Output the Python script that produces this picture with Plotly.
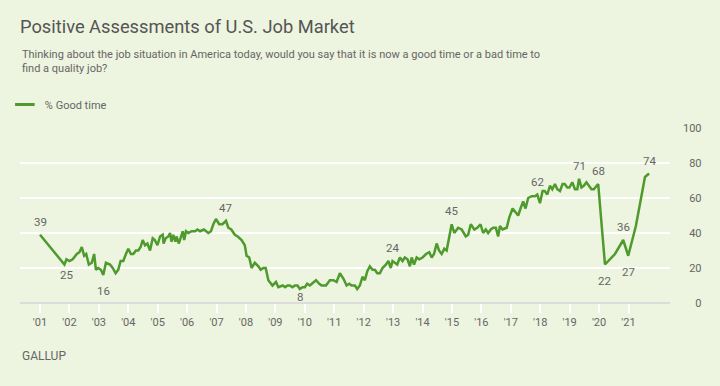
import plotly.graph_objects as go

# ---- data ----
years = [
    2001.00, 2001.83, 2001.90, 2002.00, 2002.11, 2002.25, 2002.34, 2002.42, 2002.50, 2002.57,
    2002.66, 2002.76, 2002.84, 2002.90, 2002.98, 2003.07, 2003.15, 2003.24, 2003.38, 2003.47,
    2003.57, 2003.66, 2003.74, 2003.83, 2003.92, 2004.00, 2004.09, 2004.17, 2004.26, 2004.34,
    2004.42, 2004.49, 2004.57, 2004.65, 2004.74, 2004.83, 2004.90, 2004.99, 2005.08, 2005.17,
    2005.20, 2005.27, 2005.36, 2005.42, 2005.47, 2005.53, 2005.60, 2005.64, 2005.72, 2005.78,
    2005.85, 2005.90, 2005.96, 2006.04, 2006.15, 2006.27, 2006.35, 2006.44, 2006.57, 2006.72,
    2006.81, 2006.89, 2006.98, 2007.09, 2007.20, 2007.32, 2007.40, 2007.50, 2007.62, 2007.72,
    2007.85, 2007.96, 2008.02, 2008.11, 2008.19, 2008.30, 2008.42, 2008.50, 2008.59, 2008.67,
    2008.76, 2008.90, 2009.02, 2009.10, 2009.25, 2009.33, 2009.41, 2009.49, 2009.58, 2009.66,
    2009.75, 2009.83, 2009.92, 2010.00, 2010.08, 2010.17, 2010.29, 2010.38, 2010.49, 2010.57,
    2010.72, 2010.85, 2010.97, 2011.08, 2011.19, 2011.31, 2011.42, 2011.51, 2011.59, 2011.70,
    2011.78, 2011.87, 2011.96, 2012.04, 2012.12, 2012.21, 2012.30, 2012.38, 2012.46, 2012.55,
    2012.64, 2012.76, 2012.84, 2012.92, 2012.98, 2013.06, 2013.14, 2013.23, 2013.32, 2013.40,
    2013.49, 2013.57, 2013.63, 2013.71, 2013.80, 2013.89, 2014.00, 2014.12, 2014.23, 2014.31,
    2014.39, 2014.48, 2014.56, 2014.65, 2014.74, 2014.82, 2014.99, 2015.08, 2015.21, 2015.33,
    2015.47, 2015.55, 2015.64, 2015.76, 2015.86, 2015.97, 2016.06, 2016.15, 2016.23, 2016.32,
    2016.40, 2016.49, 2016.57, 2016.63, 2016.72, 2016.86, 2016.95, 2017.06, 2017.14, 2017.25,
    2017.33, 2017.42, 2017.50, 2017.59, 2017.71, 2017.82, 2017.90, 2017.99, 2018.08, 2018.15,
    2018.24, 2018.33, 2018.41, 2018.50, 2018.58, 2018.67, 2018.76, 2018.83, 2018.92, 2018.99,
    2019.09, 2019.18, 2019.26, 2019.32, 2019.40, 2019.48, 2019.57, 2019.66, 2019.74, 2019.82,
    2019.97, 2020.20, 2020.54, 2020.82, 2020.99, 2021.25, 2021.56, 2021.70,
]
good_time = [
    39, 22, 25, 24, 25, 28, 29, 32, 27, 28,
    22, 23, 28, 19, 20, 19, 16, 23, 22, 20,
    17, 19, 24, 24, 28, 31, 28, 28, 30, 30,
    32, 36, 33, 34, 30, 37, 36, 33, 38, 39,
    34, 37, 38, 40, 35, 39, 35, 38, 34, 38,
    41, 36, 41, 40, 41, 41, 42, 41, 42, 40,
    41, 45, 48, 45, 45, 47, 43, 42, 39, 38,
    36, 33, 27, 26, 20, 23, 21, 19, 20, 20,
    13, 10, 12, 9, 10, 9, 10, 10, 9, 10,
    10, 8, 9, 9, 11, 10, 12, 13, 11, 10,
    10, 13, 13, 12, 17, 14, 10, 11, 10, 10,
    8, 10, 15, 13, 18, 21, 19, 19, 17, 17,
    20, 22, 24, 20, 24, 23, 22, 26, 24, 26,
    25, 21, 26, 22, 26, 25, 26, 28, 29, 26,
    28, 34, 30, 28, 31, 30, 45, 40, 43, 42,
    38, 39, 45, 42, 43, 45, 40, 42, 40, 42,
    43, 43, 38, 44, 42, 43, 49, 54, 52, 50,
    54, 58, 54, 60, 61, 61, 62, 57, 64, 64,
    62, 67, 65, 68, 65, 64, 68, 68, 66, 66,
    69, 65, 65, 71, 66, 67, 69, 67, 65, 65,
    68, 22, 28, 36, 27, 44, 72, 74,
]

# labelled points (year of the point) and whether label sits above or below
label_years = [2001.00, 2001.90, 2003.15, 2007.32, 2009.83, 2012.98, 2014.99,
               2017.90, 2019.32, 2019.97, 2020.20, 2020.82, 2020.99, 2021.70]
label_side = ["above", "below", "below", "above", "below", "above", "above",
              "above", "above", "above", "below", "above", "below", "above"]

tick_years = list(range(2001, 2022))
tick_labels = ["'%02d" % (y % 100) for y in tick_years]
y_ticks = [0, 20, 40, 60, 80, 100]

series_name = "% Good time"

# ---- styling ----
BG = "#edf4df"
GREEN = "#4e9a2c"
TEXT = "#666666"
FONT = "Roboto"

fig = go.Figure()
fig.add_trace(go.Scatter(
    x=years, y=good_time, mode="lines", name=series_name,
    line=dict(color=GREEN, width=2.5), showlegend=False, hoverinfo="skip",
))
# legend entry with short line symbol
fig.add_trace(go.Scatter(
    x=[None], y=[None], mode="markers", name=series_name,
    marker=dict(symbol="line-ew", size=14, line=dict(color=GREEN, width=3)),
    showlegend=True,
))

annotations = []
for ly, side in zip(label_years, label_side):
    idx = years.index(ly)
    v = good_time[idx]
    shift = 13 if side == "above" else -16
    if ly == 2009.83:
        shift = -8
    annotations.append(dict(
        x=ly, y=v, text=str(v), showarrow=False, xref="x", yref="y",
        yshift=shift, font=dict(family=FONT, size=11.5, color=TEXT),
    ))

annotations.append(dict(
    text="Thinking about the job situation in America today, would you say that it is now a good time or a bad time to<br>find a quality job?",
    xref="paper", yref="paper", x=0, y=(303.3 - 46) / 175, xanchor="left", yanchor="top",
    align="left", showarrow=False, font=dict(family=FONT, size=11, color=TEXT),
))
annotations.append(dict(
    text="GALLUP", xref="paper", yref="paper", x=0, y=(303.3 - 356) / 175,
    xanchor="left", yanchor="middle", showarrow=False,
    font=dict(family=FONT, size=12, color=TEXT),
))

yt_text = []
for t in y_ticks:
    s = str(t)
    yt_text.append("\u2007" * (3 - len(s)) + s)

fig.update_layout(
    width=720, height=386,
    paper_bgcolor=BG, plot_bgcolor=BG,
    margin=dict(l=20, r=50, t=128, b=83, autoexpand=False),
    title=dict(text="Positive Assessments of U.S. Job Market", x=20 / 720, xanchor="left",
               xref="container", yref="container", y=1 - 27 / 386, yanchor="middle",
               pad=dict(l=0, r=0, t=0, b=0),
               font=dict(family=FONT, size=18.3, color="#555555")),
    legend=dict(orientation="h", x=-0.0233, y=(303.3 - 104.7) / 175, xanchor="left", yanchor="middle",
                bgcolor="rgba(0,0,0,0)", font=dict(family=FONT, size=11, color=TEXT)),
    annotations=annotations,
    xaxis=dict(range=[2000.32, 2022.41], tickvals=tick_years, ticktext=tick_labels,
               showgrid=False, zeroline=False, ticks="outside", ticklen=9, tickwidth=2,
               tickcolor="white", tickfont=dict(family=FONT, size=11, color=TEXT),
               showline=False, fixedrange=True),
    yaxis=dict(range=[0, 100], tickvals=y_ticks, ticktext=yt_text, side="right",
               showgrid=True, gridcolor="white", gridwidth=2,
               zeroline=True, zerolinecolor="#dcdcdc", zerolinewidth=2,
               ticks="", ticklabelstandoff=12,
               tickfont=dict(family=FONT, size=11, color=TEXT), fixedrange=True),
    showlegend=True,
)

fig.write_html("out.html", config={"displayModeBar": False},
               post_script="document.body.style.margin='0px';")
